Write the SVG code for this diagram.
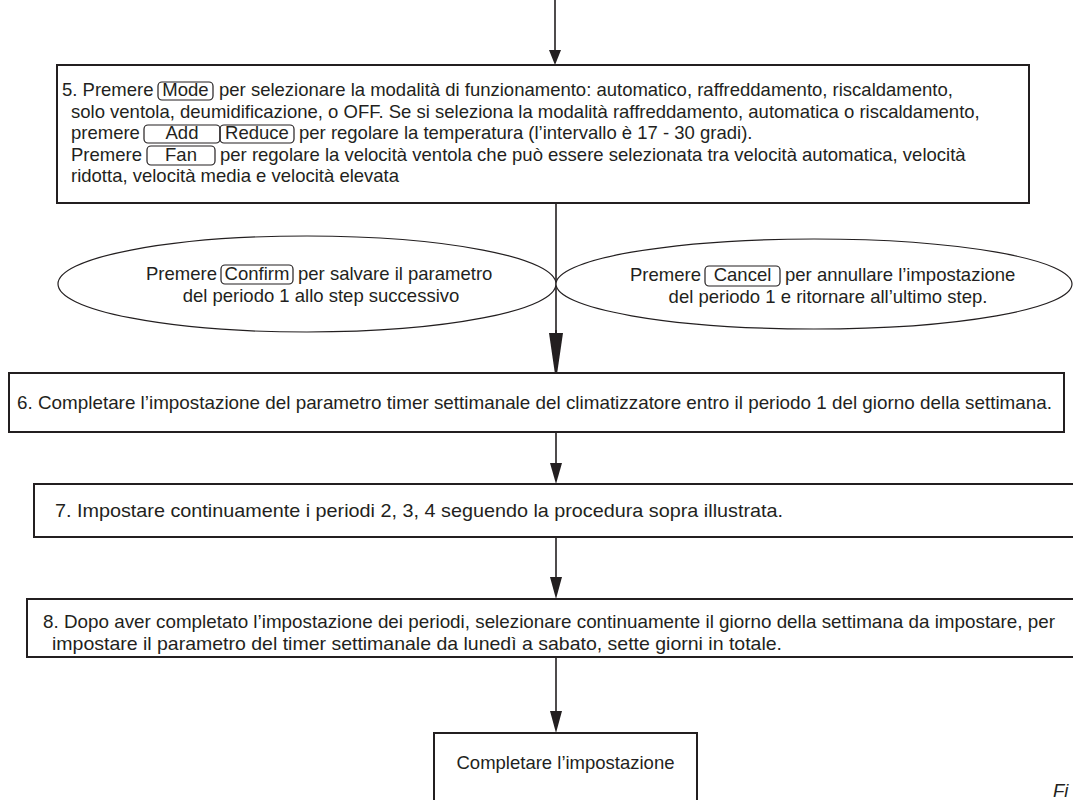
<svg xmlns="http://www.w3.org/2000/svg" width="1073" height="800" viewBox="0 0 1073 800">
<style>
  .t { font-family: "Liberation Sans", Arial, sans-serif; font-size: 18.5px; fill: #231f20; }
  .c { font-family: "Liberation Sans", Arial, sans-serif; font-size: 18.5px; fill: #231f20; }
  .box { fill: #ffffff; stroke: #231f20; stroke-width: 2; }
  .btn { fill: none; stroke: #231f20; stroke-width: 1.2; }
  .ell { fill: #ffffff; stroke: #231f20; stroke-width: 1.2; }
  .ln { stroke: #231f20; stroke-width: 1.6; fill: none; }
  .ah { fill: #231f20; }
</style>
<rect width="1073" height="800" fill="#ffffff"/>

<g id="connectors">
  <line class="ln" x1="555" y1="0" x2="555" y2="52"/>
  <polygon class="ah" points="549,50 561,50 555,65"/>
  <line class="ln" x1="556" y1="203" x2="556" y2="340"/>
  <line class="ln" x1="556" y1="432" x2="556" y2="466"/>
  <polygon class="ah" points="550,463 562,463 556,484"/>
  <line class="ln" x1="556" y1="537" x2="556" y2="580"/>
  <polygon class="ah" points="550,577 562,577 556,599"/>
  <line class="ln" x1="556" y1="657" x2="556" y2="714"/>
  <polygon class="ah" points="550,711 562,711 556,733"/>
</g>

<g id="step5">
  <rect class="box" x="57" y="65" width="972" height="138"/>
  <text class="t" x="62" y="96">5. Premere</text>
  <rect class="btn" x="158" y="82" width="55" height="18" rx="4"/>
  <text class="t" x="185.5" y="96" text-anchor="middle">Mode</text>
  <text class="t" x="219" y="96">per selezionare la modalità di funzionamento: automatico, raffreddamento, riscaldamento,</text>
  <text class="t" x="71" y="117.5">solo ventola, deumidificazione, o OFF. Se si seleziona la modalità raffreddamento, automatica o riscaldamento,</text>
  <text class="t" x="71" y="139">premere</text>
  <rect class="btn" x="144" y="125" width="76" height="18" rx="4"/>
  <text class="t" x="182" y="139" text-anchor="middle">Add</text>
  <rect class="btn" x="220" y="125" width="74" height="18" rx="4"/>
  <text class="t" x="257" y="139" text-anchor="middle">Reduce</text>
  <text class="t" x="299" y="139">per regolare la temperatura (l’intervallo è 17 - 30 gradi).</text>
  <text class="t" x="71" y="160.5">Premere</text>
  <rect class="btn" x="147" y="146" width="68" height="19" rx="4"/>
  <text class="t" x="181" y="160.5" text-anchor="middle">Fan</text>
  <text class="t" x="220" y="160.5">per regolare la velocità ventola che può essere selezionata tra velocità automatica, velocità</text>
  <text class="t" x="71" y="182">ridotta, velocità media e velocità elevata</text>
</g>

<g id="confirm">
  <ellipse class="ell" cx="307" cy="284" rx="249" ry="48"/>
  <text class="t" x="146" y="280">Premere</text>
  <rect class="btn" x="221" y="265" width="72" height="19" rx="4"/>
  <text class="t" x="257" y="280" text-anchor="middle">Confirm</text>
  <text class="t" x="298" y="280">per salvare il parametro</text>
  <text class="t" x="321" y="302" text-anchor="middle">del periodo 1 allo step successivo</text>
</g>

<g id="cancel">
  <ellipse class="ell" cx="814" cy="284" rx="258" ry="45"/>
  <text class="t" x="630" y="281">Premere</text>
  <rect class="btn" x="705" y="266" width="75" height="20" rx="4"/>
  <text class="t" x="742.5" y="281" text-anchor="middle">Cancel</text>
  <text class="t" x="785" y="281">per annullare l’impostazione</text>
  <text class="t" x="828" y="303" text-anchor="middle">del periodo 1 e ritornare all’ultimo step.</text>
</g>

<g id="arrow-main">
  <line class="ln" x1="556" y1="330" x2="556" y2="340"/>
  <polygon class="ah" points="549,333 563,333 556,381"/>
</g>

<g id="step6">
  <rect class="box" x="9" y="373" width="1055" height="59"/>
  <text class="c" x="17" y="409" textLength="1035" lengthAdjust="spacingAndGlyphs">6. Completare l’impostazione del parametro timer settimanale del climatizzatore entro il periodo 1 del giorno della settimana.</text>
</g>

<g id="step7">
  <rect class="box" x="34" y="484" width="1050" height="53"/>
  <text class="c" x="55" y="517" textLength="728" lengthAdjust="spacingAndGlyphs">7. Impostare continuamente i periodi 2, 3, 4 seguendo la procedura sopra illustrata.</text>
</g>

<g id="step8">
  <rect class="box" x="27" y="599" width="1057" height="58"/>
  <text class="c" x="43" y="628" textLength="1012" lengthAdjust="spacingAndGlyphs">8. Dopo aver completato l’impostazione dei periodi, selezionare continuamente il giorno della settimana da impostare, per</text>
  <text class="c" x="52" y="650" textLength="730" lengthAdjust="spacingAndGlyphs">impostare il parametro del timer settimanale da lunedì a sabato, sette giorni in totale.</text>
</g>

<g id="end">
  <rect class="box" x="434" y="733" width="263" height="80"/>
  <text class="t" x="565.5" y="769" text-anchor="middle">Completare l’impostazione</text>
</g>

<text class="t" x="1053" y="797" font-style="italic">Fi</text>
</svg>
